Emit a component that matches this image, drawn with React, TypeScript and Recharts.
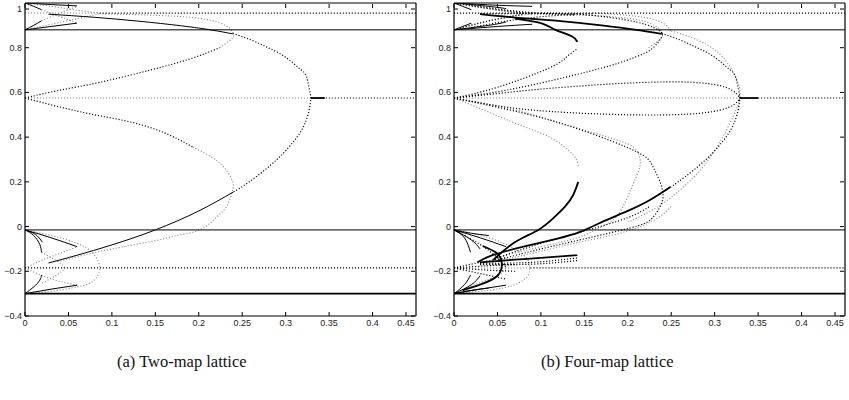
import { LineChart, Line, XAxis, YAxis } from 'recharts';

// axis ticks shared by both lattices
const xTicks = [0, 0.05, 0.1, 0.15, 0.2, 0.25, 0.3, 0.35, 0.4, 0.45];
const yTicks = [-0.4, -0.2, 0, 0.2, 0.4, 0.6, 0.8, 1];

// ---- two-map lattice: branches as [coupling, state] pairs ----
const twoUpperBranch = [[0.027, 0.95], [0.08, 0.936], [0.13, 0.919], [0.18, 0.898], [0.215, 0.879], [0.239, 0.862]];
const twoLowerBranch = [[0.027, -0.163], [0.06, -0.128], [0.1, -0.082], [0.15, -0.015], [0.2, 0.07], [0.24, 0.155]];
const twoOuterArc = [
  [0.239, 0.864], [0.26, 0.835], [0.278, 0.803], [0.295, 0.77], [0.309, 0.73], [0.318, 0.7], [0.324, 0.67],
  [0.328, 0.6], [0.329, 0.575], [0.327, 0.52], [0.322, 0.46], [0.313, 0.4], [0.29, 0.3], [0.258, 0.2], [0.24, 0.155],
];
const twoInnerUp = [[0, 0.575], [0.04, 0.61], [0.086, 0.645], [0.144, 0.7], [0.19, 0.75], [0.224, 0.8]];
const twoInnerUpTail = [[0.224, 0.8], [0.235, 0.83], [0.24, 0.855], [0.236, 0.885], [0.225, 0.91], [0.2, 0.932], [0.15, 0.945], [0.086, 0.952]];
const twoInnerDown = [[0, 0.575], [0.04, 0.535], [0.08, 0.5], [0.121, 0.468], [0.16, 0.42], [0.193, 0.356]];
const twoInnerDownTail = [
  [0.193, 0.356], [0.215, 0.31], [0.23, 0.26], [0.239, 0.2], [0.238, 0.15], [0.232, 0.09], [0.22, 0.04],
  [0.201, -0.015], [0.175, -0.04], [0.151, -0.062], [0.1, -0.1], [0.06, -0.135], [0.035, -0.16],
];

const twoSolid = [
  [[0, 0.88], [0.45, 0.88]],
  [[0, -0.015], [0.45, -0.015]],
  twoUpperBranch,
  twoLowerBranch,
  [[0, 1], [0.01, 0.985], [0.019, 0.97]],
  [[0, 1], [0.03, 0.993], [0.06, 0.987]],
  [[0, 0.88], [0.01, 0.9], [0.019, 0.92]],
  [[0, 0.88], [0.03, 0.895], [0.06, 0.91]],
  [[0, -0.015], [0.03, -0.05], [0.06, -0.09]],
  [[0, -0.015], [0.01, -0.04], [0.017, -0.08], [0.019, -0.115]],
  [[0, -0.015], [0.012, -0.035], [0.02, -0.07]],
  [[0, -0.3], [0.01, -0.27], [0.017, -0.24], [0.019, -0.217]],
  [[0, -0.3], [0.03, -0.28], [0.06, -0.262]],
];
const twoHeavy = [
  [[0, -0.3], [0.45, -0.3]],
  [[0.329, 0.575], [0.345, 0.575]],
];
const twoDotted = [
  [[0.086, 0.955], [0.45, 0.955]],
  [[0.329, 0.575], [0.45, 0.575]],
  [[0, -0.185], [0.45, -0.185]],
  twoOuterArc,
  twoInnerUp,
  twoInnerDown,
];
const twoGrey = [
  [[0, 0.955], [0.086, 0.955]],
  [[0, 0.575], [0.329, 0.575]],
  twoInnerUpTail,
  twoInnerDownTail,
  [[0, 1], [0.03, 0.985], [0.06, 0.968], [0.086, 0.955]],
  [[0, 0.88], [0.03, 0.905], [0.06, 0.93], [0.086, 0.952]],
  [[0.019, 0.97], [0.04, 0.94], [0.06, 0.91]],
  [[0.019, 0.92], [0.04, 0.955], [0.06, 0.985]],
  [[0, -0.015], [0.03, -0.04], [0.06, -0.075], [0.078, -0.12], [0.086, -0.185], [0.078, -0.245], [0.06, -0.27], [0.03, -0.29], [0, -0.3]],
  [[0, -0.185], [0.02, -0.15], [0.04, -0.12], [0.06, -0.09]],
  [[0, -0.185], [0.02, -0.22], [0.04, -0.245], [0.06, -0.262]],
  [[0.019, -0.115], [0.035, -0.15], [0.045, -0.185], [0.035, -0.22], [0.019, -0.255]],
];

// ---- four-map lattice ----
const fourUpperBranch = [[0.03, 0.95], [0.07, 0.935], [0.12, 0.92], [0.17, 0.9], [0.21, 0.88], [0.239, 0.862]];
const fourShortArc = [[0.07, 0.93], [0.1, 0.91], [0.117, 0.88], [0.136, 0.85], [0.142, 0.826]];
const fourLowerBranch = [[0.027, -0.16], [0.045, -0.127], [0.08, -0.09], [0.118, -0.055], [0.145, -0.024], [0.17, 0.02], [0.2, 0.07], [0.226, 0.12], [0.249, 0.177]];
const fourInnerSolid = [[0.045, -0.15], [0.07, -0.07], [0.097, -0.015], [0.115, 0.04], [0.128, 0.09], [0.137, 0.14], [0.143, 0.2]];
const fourHook = [[0.033, -0.087], [0.049, -0.118], [0.055, -0.163], [0.05, -0.22], [0.03, -0.26], [0.01, -0.285]];
const fourFinger = [[0.03, -0.16], [0.07, -0.148], [0.1, -0.14], [0.142, -0.128]];
const fourOuterArc = twoOuterArc;
const fourLensTop = [[0, 0.575], [0.05, 0.595], [0.1, 0.615], [0.15, 0.63], [0.2, 0.642], [0.26, 0.647], [0.3, 0.635], [0.32, 0.61], [0.329, 0.575]];
const fourLensBottom = [[0, 0.575], [0.05, 0.54], [0.11, 0.515], [0.2, 0.5], [0.27, 0.503], [0.305, 0.52], [0.322, 0.545], [0.329, 0.575]];
const fourRiseShort = [[0, 0.575], [0.05, 0.623], [0.11, 0.71], [0.13, 0.76], [0.142, 0.795]];
const fourRiseLong = [[0, 0.575], [0.06, 0.61], [0.125, 0.665], [0.18, 0.72], [0.21, 0.76], [0.226, 0.79], [0.236, 0.83], [0.24, 0.86]];
const fourTopArc = [[0.1, 0.955], [0.142, 0.95], [0.18, 0.935], [0.21, 0.915], [0.23, 0.89], [0.24, 0.865]];
const fourFallLong = [
  [0, 0.575], [0.079, 0.508], [0.148, 0.43], [0.21, 0.335], [0.229, 0.268], [0.24, 0.164], [0.237, 0.088],
  [0.226, 0.03], [0.203, -0.006], [0.15, -0.055], [0.1, -0.1], [0.05, -0.15],
];
const fourFallShort = [[0, 0.575], [0.035, 0.52], [0.072, 0.46], [0.11, 0.4], [0.132, 0.34], [0.141, 0.3], [0.143, 0.265]];
const fourFallMid = [
  [0, 0.575], [0.05, 0.54], [0.1, 0.49], [0.16, 0.42], [0.2, 0.37], [0.212, 0.33], [0.214, 0.27], [0.205, 0.18],
  [0.188, 0.05], [0.165, -0.01], [0.142, -0.05], [0.1, -0.09], [0.05, -0.14],
];
const fourOuterGrey = [[0.25, 0.875], [0.28, 0.835], [0.305, 0.775], [0.32, 0.7], [0.328, 0.63], [0.329, 0.575], [0.321, 0.49], [0.295, 0.31], [0.264, 0.177], [0.234, 0.087], [0.2, 0.02]];

const fourSolid = [
  [[0, 0.88], [0.45, 0.88]],
  [[0, -0.015], [0.45, -0.015]],
  [[0, 1], [0.01, 0.985], [0.02, 0.97]],
  [[0, 1], [0.04, 0.985], [0.06, 0.975]],
  [[0, 1], [0.05, 0.99], [0.09, 0.985]],
  [[0, 0.88], [0.01, 0.895], [0.02, 0.91]],
  [[0, 0.88], [0.04, 0.9], [0.06, 0.915]],
  [[0, 0.88], [0.05, 0.895], [0.09, 0.905]],
  [[0, -0.015], [0.02, -0.03], [0.04, -0.04]],
  [[0, -0.015], [0.03, -0.05], [0.06, -0.09]],
  [[0, -0.015], [0.02, -0.06], [0.03, -0.1]],
  [[0, -0.015], [0.012, -0.05], [0.019, -0.115]],
  [[0, -0.3], [0.02, -0.285], [0.04, -0.275]],
  [[0, -0.3], [0.03, -0.28], [0.06, -0.262]],
  [[0, -0.3], [0.02, -0.26], [0.03, -0.22]],
  [[0, -0.3], [0.012, -0.26], [0.019, -0.217]],
];
const fourHeavy = [
  [[0, -0.3], [0.45, -0.3]],
  [[0.329, 0.575], [0.35, 0.575]],
  fourUpperBranch,
  fourShortArc,
  fourLowerBranch,
  fourInnerSolid,
  fourHook,
  fourFinger,
];
const fourDotted = [
  [[0, 0.955], [0.45, 0.955]],
  [[0.03, 0.952], [0.16, 0.952]],
  [[0.35, 0.575], [0.45, 0.575]],
  [[0.088, -0.185], [0.45, -0.185]],
  fourOuterArc,
  fourLensTop,
  fourLensBottom,
  fourRiseShort,
  fourRiseLong,
  fourTopArc,
  fourFallLong,
  [[0, 1], [0.04, 0.975], [0.08, 0.955]],
  [[0, 0.88], [0.04, 0.92], [0.08, 0.95]],
  [[0.02, 0.99], [0.08, 0.96], [0.14, 0.945]],
  [[0.02, 0.89], [0.08, 0.93], [0.14, 0.95]],
  [[0.05, -0.14], [0.1, -0.075], [0.15, -0.02], [0.2, 0.04], [0.225, 0.09]],
  [[0.03, -0.165], [0.09, -0.16], [0.142, -0.14]],
  [[0.03, -0.17], [0.09, -0.168], [0.142, -0.152]],
  [[0, -0.185], [0.03, -0.16], [0.06, -0.14]],
  [[0, -0.185], [0.03, -0.21], [0.06, -0.235]],
  [[0, -0.185], [0.04, -0.175], [0.07, -0.17]],
  [[0, -0.185], [0.04, -0.195], [0.07, -0.2]],
  [[0, -0.015], [0.03, -0.08], [0.05, -0.14], [0.06, -0.185]],
];
const fourGrey = [
  [[0, 0.575], [0.329, 0.575]],
  [[0, -0.185], [0.088, -0.185]],
  fourFallShort,
  fourFallMid,
  fourOuterGrey,
  twoInnerUpTail,
  [[0.16, 0.955], [0.2, 0.945], [0.235, 0.92], [0.25, 0.875]],
  [[0, 1], [0.03, 0.98], [0.06, 0.962], [0.09, 0.95]],
  [[0, 0.88], [0.03, 0.91], [0.06, 0.935], [0.09, 0.952]],
  [[0, -0.015], [0.04, -0.05], [0.07, -0.1], [0.085, -0.15], [0.087, -0.185], [0.085, -0.22], [0.07, -0.26], [0.04, -0.285], [0, -0.3]],
  [[0, -0.3], [0.03, -0.25], [0.05, -0.22], [0.06, -0.185]],
  [[0.05, -0.155], [0.1, -0.11], [0.15, -0.065], [0.2, -0.02], [0.235, 0.04], [0.25, 0.09]],
];

const toPoints = (c: number[][]) => c.map(([x, y]) => ({ x, y }));

const tickFont = 'Liberation Sans, Arial, sans-serif';
const fmtY = (v: number) => (v < 0 ? '\u2212' + Math.abs(v) : String(v));

const BottomTick = (p: any) => {
  const y0 = p.y - 3;
  return (
    <g>
      <line x1={p.x} x2={p.x} y1={y0} y2={y0 - 4} stroke="#000" />
      <text x={p.x} y={y0 + 10} textAnchor="middle" fontSize={9} fill="#222" fontFamily={tickFont}>
        {String(p.payload.value)}
      </text>
    </g>
  );
};
const LeftTick = (p: any) => {
  const x0 = p.x + 3;
  return (
    <g>
      <line x1={x0} x2={x0 + 4} y1={p.y} y2={p.y} stroke="#000" />
      <text x={p.x} y={p.y + 3} textAnchor="end" fontSize={9} fill="#222" fontFamily={tickFont}>
        {fmtY(p.payload.value)}
      </text>
    </g>
  );
};
// top / right axes only carry inward tick marks
const TopTick = (p: any) => <line x1={p.x} x2={p.x} y1={p.y + 1} y2={p.y + 5} stroke="#000" />;
const RightTick = (p: any) => <line x1={p.x - 5} x2={p.x - 1} y1={p.y} y2={p.y} stroke="#000" />;

const styles = {
  grey: { stroke: '#8a8a8a', strokeWidth: 1.1, strokeDasharray: '1.1 1.9' },
  dotted: { stroke: '#000', strokeWidth: 1.2, strokeDasharray: '1.1 1.9' },
  solid: { stroke: '#000', strokeWidth: 1, strokeDasharray: undefined },
  heavy: { stroke: '#000', strokeWidth: 1.8, strokeDasharray: undefined },
};

type Groups = { grey: number[][][]; dotted: number[][][]; solid: number[][][]; heavy: number[][][] };

function Lattice({ left, groups }: { left: number; groups: Groups }) {
  const order: (keyof Groups)[] = ['grey', 'dotted', 'solid', 'heavy'];
  return (
    <div style={{ position: 'absolute', left, top: 0 }}>
      <LineChart width={420} height={335} margin={{ top: 2, right: 3, bottom: 0, left: 0 }}>
        <XAxis
          type="number"
          dataKey="x"
          domain={[0, 0.45]}
          ticks={xTicks}
          allowDataOverflow
          height={19}
          tickSize={0}
          tickMargin={3}
          tick={BottomTick}
          axisLine={{ stroke: '#000', strokeWidth: 1.2 }}
          tickLine={false}
        />
        <XAxis
          xAxisId="top"
          orientation="top"
          type="number"
          dataKey="x"
          domain={[0, 0.45]}
          ticks={xTicks}
          allowDataOverflow
          height={1}
          tickSize={0}
          tickMargin={0}
          tick={TopTick}
          axisLine={{ stroke: '#000', strokeWidth: 1.2 }}
          tickLine={false}
        />
        <YAxis
          type="number"
          domain={[-0.4, 1]}
          ticks={yTicks}
          allowDataOverflow
          width={25}
          tickSize={0}
          tickMargin={3}
          tick={LeftTick}
          axisLine={{ stroke: '#000', strokeWidth: 1.2 }}
          tickLine={false}
        />
        <YAxis
          yAxisId="right"
          orientation="right"
          type="number"
          domain={[-0.4, 1]}
          ticks={yTicks}
          allowDataOverflow
          width={1}
          tickSize={0}
          tickMargin={0}
          tick={RightTick}
          axisLine={{ stroke: '#000', strokeWidth: 1.2 }}
          tickLine={false}
        />
        {order.flatMap((kind) =>
          groups[kind].map((c, i) => (
            <Line
              key={`${kind}-${i}`}
              data={toPoints(c)}
              dataKey="y"
              type="natural"
              dot={false}
              activeDot={false}
              isAnimationActive={false}
              stroke={styles[kind].stroke}
              strokeWidth={styles[kind].strokeWidth}
              strokeDasharray={styles[kind].strokeDasharray}
            />
          ))
        )}
      </LineChart>
    </div>
  );
}

const captionStyle: React.CSSProperties = {
  position: 'absolute',
  top: 352,
  fontFamily: 'Liberation Serif, serif',
  fontSize: 16.5,
  color: '#111',
  whiteSpace: 'nowrap',
};

export default function App() {
  return (
    <div style={{ position: 'absolute', left: 0, top: 0, width: 849, height: 400, background: '#fff', overflow: 'hidden' }}>
      <Lattice left={0} groups={{ grey: twoGrey, dotted: twoDotted, solid: twoSolid, heavy: twoHeavy }} />
      <Lattice left={429} groups={{ grey: fourGrey, dotted: fourDotted, solid: fourSolid, heavy: fourHeavy }} />
      <div style={{ ...captionStyle, left: 117 }}>(a) Two-map lattice</div>
      <div style={{ ...captionStyle, left: 541 }}>(b) Four-map lattice</div>
    </div>
  );
}
